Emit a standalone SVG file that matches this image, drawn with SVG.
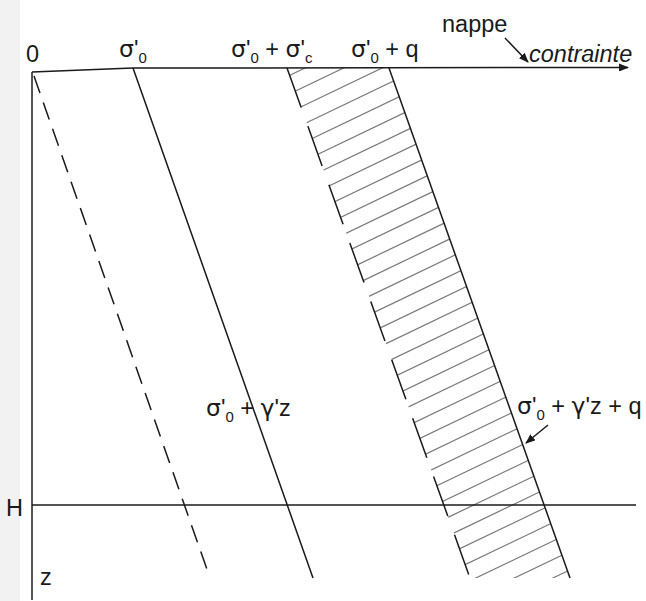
<svg xmlns="http://www.w3.org/2000/svg" width="646" height="601" viewBox="0 0 646 601">
<style>
.ln{fill:none;stroke:#1a1a1a;stroke-width:1.5}
.h{fill:none;stroke:#7a7a7a;stroke-width:1.2}
.t{font-family:"Liberation Sans",Arial,sans-serif;font-size:23.5px;fill:#1a1a1a}
.g{font-family:"DejaVu Sans","Liberation Serif",serif}
.s{font-size:15px}
</style>
<defs>
<clipPath id="band"><polygon points="287,68 389,68 570,578 470,578"/></clipPath>
<marker id="ah" markerWidth="10" markerHeight="8" refX="9" refY="4" orient="auto" markerUnits="userSpaceOnUse">
<path d="M0,0 L10,4 L0,8 Z" fill="#1a1a1a"/>
</marker>
</defs>
<rect width="646" height="601" fill="#fff"/>
<rect width="20" height="601" fill="#f2f2f2"/>
<g id="hatching" clip-path="url(#band)">
<path class="h" d="M280,80L580,-64M280,98.5L580,-45.5M280,117L580,-27M280,135.5L580,-8.5M280,154L580,10M280,172.5L580,28.5M280,191L580,47M280,209.5L580,65.5M280,228L580,84M280,246.5L580,102.5M280,265L580,121M280,283.5L580,139.5M280,302L580,158M280,320.5L580,176.5M280,339L580,195M280,357.5L580,213.5M280,376L580,232M280,394.5L580,250.5M280,413L580,269M280,431.5L580,287.5M280,450L580,306M280,468.5L580,324.5M280,487L580,343M280,505.5L580,361.5M280,524L580,380M280,542.5L580,398.5M280,561L580,417M280,579.5L580,435.5M280,598L580,454M280,616.5L580,472.5M280,635L580,491M280,653.5L580,509.5M280,672L580,528M280,690.5L580,546.5M280,709L580,565M280,727.5L580,583.5"/>
</g>
<g id="connectors">
<polyline class="ln" points="32,72 133,68 628,67.5" marker-end="url(#ah)"/>
<line class="ln" x1="32" y1="72" x2="32" y2="600"/>
<line class="ln" x1="32" y1="505" x2="636" y2="505"/>
<line class="ln" x1="34" y1="76" x2="210" y2="578" stroke-dasharray="18 10"/>
<line class="ln" x1="133" y1="68" x2="313" y2="578"/>
<line class="ln" x1="287" y1="68" x2="470" y2="578" stroke-dasharray="42 20"/>
<line class="ln" x1="389" y1="68" x2="570" y2="578"/>
<line class="ln" x1="505" y1="38" x2="528" y2="62" stroke-width="1.2" marker-end="url(#ah)"/>
<line class="ln" x1="548" y1="425" x2="526" y2="443" stroke-width="1.2" marker-end="url(#ah)"/>
</g>
<g id="label-0"><text class="t" x="26" y="62">0</text></g>
<g id="label-s0"><text class="t" x="119" y="57"><tspan class="g">σ</tspan>'<tspan class="s" dy="6">0</tspan></text></g>
<g id="label-s0sc"><text class="t" x="231" y="57"><tspan class="g">σ</tspan>'<tspan class="s" dy="6">0</tspan><tspan dy="-6"> + </tspan><tspan class="g">σ</tspan>'<tspan class="s" dy="6">c</tspan></text></g>
<g id="label-s0q"><text class="t" x="351" y="57"><tspan class="g">σ</tspan>'<tspan class="s" dy="6">0</tspan><tspan dy="-6"> + q</tspan></text></g>
<g id="label-nappe"><text class="t" x="442" y="32">nappe</text></g>
<g id="label-contrainte"><text class="t" x="529" y="62" font-style="italic">contrainte</text></g>
<g id="label-lin"><text class="t" x="206" y="416"><tspan class="g">σ</tspan>'<tspan class="s" dy="6">0</tspan><tspan dy="-6"> + </tspan><tspan class="g">γ</tspan>'z</text></g>
<g id="label-linq"><text class="t" x="517" y="414"><tspan class="g">σ</tspan>'<tspan class="s" dy="6">0</tspan><tspan dy="-6"> + </tspan><tspan class="g">γ</tspan>'z + q</text></g>
<g id="label-H"><text class="t" x="6" y="516">H</text></g>
<g id="label-z"><text class="t" x="40" y="585">z</text></g>
</svg>
